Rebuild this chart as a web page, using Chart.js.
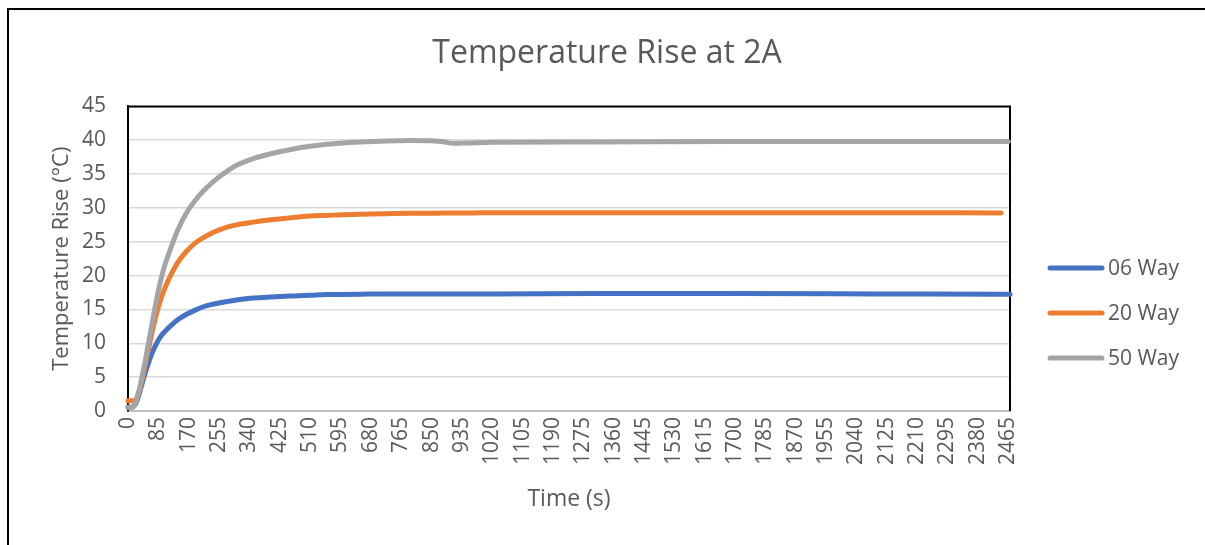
<!DOCTYPE html>
<html>
<head>
<meta charset="utf-8">
<title>Temperature Rise at 2A</title>
<script src="https://cdn.jsdelivr.net/npm/chart.js@4.4.0/dist/chart.umd.min.js"></script>
<style>
  html, body { margin: 0; padding: 0; background: #fff; overflow: hidden; }
  #frame { position: absolute; left: 7px; top: 8px; width: 1300px; height: 700px; border: 2px solid #000; }
  #wrap { position: absolute; left: 0; top: 0; width: 1205px; height: 545px; }
</style>
</head>
<body>
<div id="frame"></div>
<div id="wrap"><canvas id="tempChart"></canvas></div>
<script>
// --- data ---
const timeS = [0, 10, 18, 25, 35, 48, 60, 71, 82, 94, 106, 118, 140, 164, 188, 211, 235, 258, 280, 304,
  351, 400, 463, 510, 556, 600, 650, 720, 790, 860, 880, 911, 950, 1022, 1300, 1700, 2100, 2445, 2465, 2470];

const way06 = [0.6, 0.6, 0.8, 1.5, 3.2, 5.6, 7.5, 9.0, 10.2, 11.2, 11.9, 12.5, 13.5, 14.3, 14.9, 15.4, 15.75, 16.0, 16.2, 16.4,
  16.7, 16.85, 17.0, 17.1, 17.2, 17.22, 17.25, 17.3, 17.3, 17.3, 17.3, 17.3, 17.3, 17.3, 17.35, 17.35, 17.3, 17.25, 17.25, 17.25];

const way20 = [1.5, 1.5, 1.5, 2.0, 3.6, 6.8, 9.8, 12.5, 14.8, 16.9, 18.5, 19.9, 22.0, 23.6, 24.8, 25.6, 26.3, 26.8, 27.2, 27.5,
  27.9, 28.25, 28.6, 28.8, 28.9, 29.0, 29.05, 29.15, 29.2, 29.2, 29.25, 29.25, 29.25, 29.3, 29.3, 29.3, 29.3, 29.25, null, null];

const way50 = [0.5, 0.5, 0.8, 1.8, 4.0, 7.3, 10.8, 14.0, 17.0, 19.8, 22.0, 23.8, 26.8, 29.3, 31.1, 32.5, 33.7, 34.7, 35.5, 36.3,
  37.3, 38.0, 38.7, 39.1, 39.4, 39.6, 39.75, 39.9, 39.95, 39.9, 39.8, 39.55, 39.6, 39.7, 39.75, 39.8, 39.8, 39.8, 39.8, null];

const seriesNames = ['06 Way', '20 Way', '50 Way'];
const seriesColors = ['#4472C4', '#ED7D31', '#A5A5A5'];

const xTicks = [0, 85, 170, 255, 340, 425, 510, 595, 680, 765, 850, 935, 1020, 1105, 1190, 1275, 1360, 1445,
  1530, 1615, 1700, 1785, 1870, 1955, 2040, 2125, 2210, 2295, 2380, 2465];
const yTicks = [0, 5, 10, 15, 20, 25, 30, 35, 40, 45];

const TEXT_COLOR = '#595959';
const FONT = '"Open Sans", "Noto Sans", sans-serif';

function toPoints(values) {
  return timeS.map((t, i) => ({ x: t, y: values[i] }));
}

// plot area border: black on left, top and right (as in the Excel export)
const plotBorder = {
  id: 'plotBorder',
  beforeDatasetsDraw(chart) {
    const { ctx, chartArea: a } = chart;
    ctx.save();
    ctx.strokeStyle = '#000';
    ctx.lineWidth = 2;
    ctx.beginPath();
    ctx.moveTo(a.left, a.bottom);
    ctx.lineTo(a.left, a.top);
    ctx.lineTo(a.right, a.top);
    ctx.lineTo(a.right, a.bottom);
    ctx.stroke();
    ctx.restore();
  }
};

// legend to the right of the plot, Excel style (line sample + label)
const sideLegend = {
  id: 'sideLegend',
  afterDraw(chart, args, opts) {
    const { ctx } = chart;
    ctx.save();
    ctx.font = '21px ' + FONT;
    ctx.textBaseline = 'middle';
    ctx.lineCap = 'round';
    chart.data.datasets.forEach((ds, i) => {
      const y = opts.y + i * opts.gap;
      ctx.strokeStyle = ds.borderColor;
      ctx.lineWidth = 5;
      ctx.beginPath();
      ctx.moveTo(opts.x, y);
      ctx.lineTo(opts.x + opts.len, y);
      ctx.stroke();
      ctx.fillStyle = TEXT_COLOR;
      ctx.fillText(ds.label, opts.x + opts.len + 6, y + 1);
    });
    ctx.restore();
  }
};

const ctx = document.getElementById('tempChart').getContext('2d');
const myChart = new Chart(ctx, {
  type: 'line',
  data: {
    datasets: [
      { label: seriesNames[0], data: toPoints(way06), borderColor: seriesColors[0], order: 3 },
      { label: seriesNames[1], data: toPoints(way20), borderColor: seriesColors[1], order: 2 },
      { label: seriesNames[2], data: toPoints(way50), borderColor: seriesColors[2], order: 1 }
    ]
  },
  options: {
    responsive: true,
    maintainAspectRatio: false,
    animation: false,
    layout: { padding: { left: 9, right: 0, top: 9, bottom: 30 } },
    datasets: {
      line: {
        borderWidth: 5,
        pointRadius: 0,
        pointHoverRadius: 0,
        cubicInterpolationMode: 'monotone',
        borderCapStyle: 'round',
        borderJoinStyle: 'round',
        fill: false,
        clip: false
      }
    },
    scales: {
      x: {
        type: 'linear',
        min: 0,
        max: 2470,
        afterBuildTicks: (scale) => { scale.ticks = xTicks.map(v => ({ value: v })); },
        afterFit: (scale) => { scale.height = 104; },
        grid: { display: false, drawTicks: false },
        border: { color: '#BFBFBF', width: 2 },
        ticks: {
          autoSkip: false,
          minRotation: 90,
          maxRotation: 90,
          padding: 6,
          color: TEXT_COLOR,
          font: { family: FONT, size: 21 },
          callback: (v) => String(v)
        },
        title: {
          display: true,
          text: 'Time (s)',
          color: TEXT_COLOR,
          font: { family: FONT, size: 23 },
          padding: { top: 0, bottom: 2 }
        }
      },
      y: {
        min: 0,
        max: 45,
        afterBuildTicks: (scale) => { scale.ticks = yTicks.map(v => ({ value: v })); },
        afterFit: (scale) => { scale.width = 119; },
        grid: { color: '#D9D9D9', lineWidth: 1.5, drawTicks: false },
        border: { color: '#000', width: 2 },
        ticks: {
          padding: 22,
          color: TEXT_COLOR,
          font: { family: FONT, size: 21 }
        },
        title: {
          display: true,
          text: 'Temperature Rise (°C)',
          color: TEXT_COLOR,
          font: { family: FONT, size: 22 },
          padding: { top: 40, bottom: 0 }
        }
      },
      // empty right-hand box that keeps room for the legend
      legendSpace: {
        position: 'right',
        display: true,
        afterFit: (scale) => { scale.width = 195; },
        grid: { display: false, drawTicks: false },
        border: { display: false },
        ticks: { display: false }
      }
    },
    plugins: {
      legend: { display: false },
      tooltip: { enabled: false },
      title: {
        display: true,
        text: 'Temperature Rise at 2A',
        color: TEXT_COLOR,
        font: { family: FONT, size: 32, weight: 'normal' },
        padding: { top: 26, bottom: 33 }
      },
      sideLegend: { x: 1050, y: 268, gap: 45, len: 52 }
    }
  },
  plugins: [plotBorder, sideLegend]
});
</script>
</body>
</html>
